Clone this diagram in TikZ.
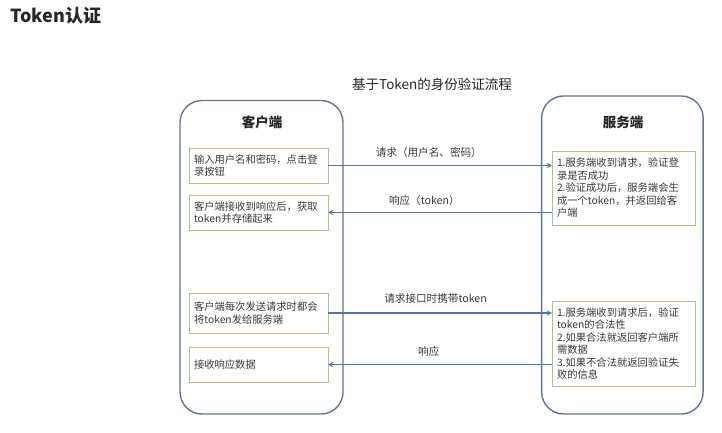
\documentclass[tikz,border=0pt]{standalone}
\usepackage{fontspec}
\setmainfont{Noto Sans CJK SC}
\usepackage{tikz,xcolor}
\usetikzlibrary{arrows,positioning}

\definecolor{sideblue}{HTML}{64748E}
\definecolor{stepgreen}{HTML}{ABC48E}
\definecolor{msgblue}{HTML}{5773A6}
\definecolor{textgray}{HTML}{3A3A3A}

\tikzset{
  side/.style={draw=sideblue, line width=1.4, rounded corners=22, outer sep=0},
  sidetitle/.style={font=\fontsize{13.5}{15}\selectfont\bfseries, text=black!85},
  stepbox/.style={draw=stepgreen, line width=0.9, outer sep=0, inner xsep=5, inner ysep=2,
    align=left, font=\fontsize{10.3}{12.5}\selectfont, text=textgray},
  msg/.style={draw=msgblue, line width=1.3, ->},
  msglabel/.style={font=\fontsize{10.6}{12}\selectfont, text=textgray, inner sep=1},
}

\begin{document}
\begin{tikzpicture}[x=1pt,y=1pt,>=stealth]
	\useasboundingbox (0,0) rectangle (722,432);
	% titles
	\node (title)[anchor=west, font=\fontsize{18}{20}\selectfont\bfseries, text=black!85] at (7,416) {Token认证};
	\node (flow)[font=\fontsize{13.5}{15}\selectfont, text=black!85] at (432,348) {基于Token的身份验证流程};

	% the two sides
	\node (client)[side, minimum width=163, minimum height=313.5] at (261.5,174.75) {};
	\node (server)[side, minimum width=161.5, minimum height=318] at (622.4,177) {};
	\node (clienttitle)[sidetitle] at (262,310) {客户端};
	\node (servertitle)[sidetitle] at (623,310) {服务端};

	% client steps
	\node (login)[stepbox, text width=129, minimum height=35] at (258.5,266.5) {输入用户名和密码，点击登\\录按钮};
	\node (store)[stepbox, text width=129, minimum height=35, below=12pt of login] {客户端接收到响应后，获取\\token并存储起来};
	\node (send)[stepbox, text width=129, minimum height=40, below=63pt of store] {客户端每次发送请求时都会\\将token发给服务端};
	\node (receive)[stepbox, text width=129, minimum height=35, below=14pt of send] {接收响应数据};

	% server steps
	\node (check)[stepbox, text width=133, minimum height=74] at (623.5,244) {1.服务端收到请求，验证登\\录是否成功\\2.验证成功后，服务端会生\\成一个token，并返回给客\\户端};
	\node (verify)[stepbox, text width=133, minimum height=85, below=76pt of check] {1.服务端收到请求后，验证\\token的合法性\\2.如果合法就返回客户端所\\需数据\\3.如果不合法就返回验证失\\败的信息};

	% messages
	\draw[msg] (login.east) -- node[msglabel, above=6pt, pos=0.45] (req1) {请求（用户名、密码）} (check.west |- login.east);
	\draw[msg] (check.west |- store.east) -- node[msglabel, above=5pt, pos=0.57] (resp1) {响应（token）} (store.east);
	\draw[msg] (send.east) -- node[msglabel, above=8pt, pos=0.48] (req2) {请求接口时携带token} (verify.west |- send.east);
	\draw[msg] (verify.west |- receive.east) -- node[msglabel, above=6pt, pos=0.55] (resp2) {响应} (receive.east);

\end{tikzpicture}
\end{document}
